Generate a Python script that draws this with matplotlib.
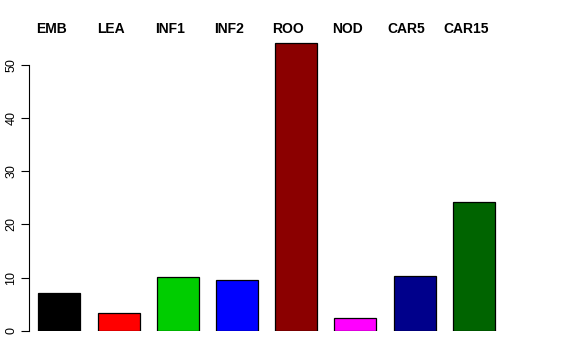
import numpy as np
import matplotlib
matplotlib.use("Agg")
import matplotlib.pyplot as plt

# tissue labels and bar heights
tissues = ["EMB", "LEA", "INF1", "INF2", "ROO", "NOD", "CAR5", "CAR15"]
values = [7.05, 3.3, 10.15, 9.65, 54.1, 2.4, 10.25, 24.3]
colors = ["black", "red", "#00CD00", "blue", "#8B0000", "magenta", "#00008B", "#006400"]

plt.rcParams['font.family'] = ['Liberation Sans', 'DejaVu Sans']

W, H = 576, 360
fig = plt.figure(figsize=(W / 100, H / 100), dpi=100)

# pixel geometry of the plot region
px_left, px_right = 29, 560
px_zero, px_per_unit = 331, 5.326
pitch, first_center = 59.2, 59.3
ymax = 55

ax = fig.add_axes([px_left / W, (H - px_zero) / H,
                   (px_right - px_left) / W, ymax * px_per_unit / H])

x = np.arange(len(tissues))
ax.bar(x, values, width=42 / pitch, color=colors, edgecolor='black', linewidth=0.9)

ax.set_xlim((px_left - first_center) / pitch, (px_right - first_center) / pitch)
ax.set_ylim(0, ymax)

for s in ['top', 'right', 'bottom']:
    ax.spines[s].set_visible(False)
ax.spines['left'].set_bounds(0, 50)
ax.spines['left'].set_linewidth(0.8)

ax.set_xticks([])
ax.set_yticks([0, 10, 20, 30, 40, 50])
ax.tick_params(axis='y', direction='out', length=5.5, width=0.8, labelsize=9, pad=3)
for lab in ax.get_yticklabels():
    lab.set_rotation(90)
    lab.set_va('center')

# tissue names along the top
label_y = (px_zero - 29) / (ymax * px_per_unit)
for i, name in enumerate(tissues):
    ax.text(i - 8 / pitch, label_y, name, transform=ax.get_xaxis_transform(),
            ha='center', va='center', fontsize=10, fontweight='bold')

plt.savefig('out.png', dpi=100)
